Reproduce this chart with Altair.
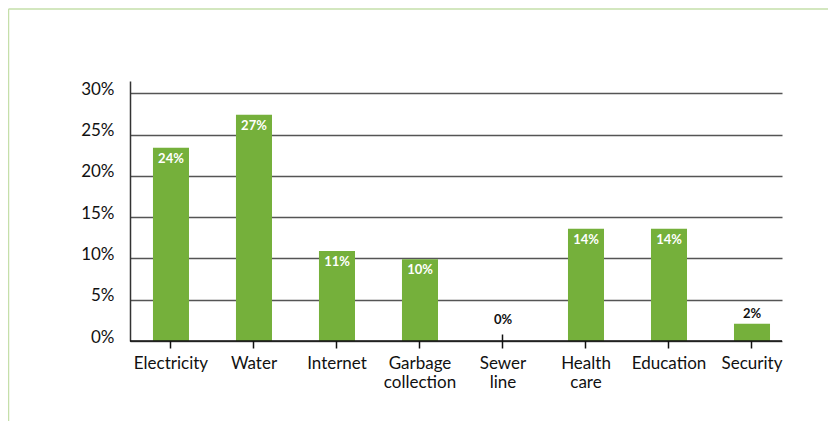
import altair as alt
import pandas as pd

categories = ["Electricity", "Water", "Internet", "Garbage collection",
              "Sewer line", "Health care", "Education", "Security"]
values = [23.4, 27.4, 10.9, 9.9, 0.0, 13.6, 13.6, 2.1]
labels = ["24%", "27%", "11%", "10%", "0%", "14%", "14%", "2%"]
y_ticks = [0, 5, 10, 15, 20, 25, 30]

df = pd.DataFrame({"cat": categories, "val": values, "lab": labels})

FONT = "Lato"
GREEN = "#75b03b"

x_scale = alt.Scale(paddingInner=0.566, paddingOuter=0.2106, align=0.657)
x_enc = alt.X(
    "cat:N", sort=categories, title=None, scale=x_scale,
    axis=alt.Axis(
        labelAngle=0, domain=False, grid=False, offset=-7, tickSize=14,
        tickColor="#111", tickWidth=1.5, labelPadding=7,
        labelExpr="split(datum.label, ' ')", labelFontSize=17,
        labelColor="#111", labelFont=FONT, labelLineHeight=19,
    ),
)
y_scale = alt.Scale(domain=[0, 31.5], nice=False)
y_enc = alt.Y(
    "val:Q", title=None, scale=y_scale,
    axis=alt.Axis(
        values=y_ticks, labelExpr="datum.value + '%'", ticks=False,
        domain=True, domainColor="#333", domainWidth=1.5,
        grid=True, gridColor="#555", gridWidth=1.3,
        labelFontSize=17, labelColor="#111", labelFont=FONT, labelPadding=16,
        labelOffset=-4,
    ),
)

base = alt.Chart(df)
one = alt.Chart(pd.DataFrame({"k": [0]}))

frame_top = one.mark_rule(color="#c5dfaa", strokeWidth=1.5).encode(
    x=alt.value(-121.5), x2=alt.value(700), y=alt.value(-72)
)
frame_left = one.mark_rule(color="#c5dfaa", strokeWidth=1.5).encode(
    x=alt.value(-121.5), y=alt.value(-72), y2=alt.value(340)
)

bars = base.mark_bar(color=GREEN).encode(x=x_enc, y=y_enc)

xt = alt.X("cat:N", sort=categories, scale=x_scale)
yt = alt.Y("val:Q", scale=y_scale)

inside = base.mark_text(
    color="white", fontWeight="bold", fontSize=13, font=FONT, baseline="middle", dy=11
).encode(x=xt, y=yt, text="lab:N").transform_filter("datum.val >= 5")

outside = base.mark_text(
    color="#111", fontWeight="bold", fontSize=13, font=FONT, baseline="middle", dy=-10
).encode(x=xt, y=yt, text="lab:N").transform_filter("datum.val < 5 && datum.val > 0")

zero_lab = base.mark_text(
    color="#111", fontWeight="bold", fontSize=13, font=FONT, baseline="middle", dy=-21
).encode(x=xt, y=yt, text="lab:N").transform_filter("datum.val == 0")

zero = alt.Chart(pd.DataFrame({"z": [0]})).mark_rule(color="#111", strokeWidth=1.5).encode(
    y=alt.Y("z:Q", scale=y_scale)
)

chart = alt.layer(frame_top, frame_left, bars, zero, inside, outside, zero_lab).properties(
    width=652, height=260,
    autosize=alt.AutoSizeParams(type="none"),
    padding={"left": 122, "top": 73, "right": 46, "bottom": 80},
).configure_view(stroke=None)

chart.save("out.html", embed_options={"renderer": "svg", "actions": False})
